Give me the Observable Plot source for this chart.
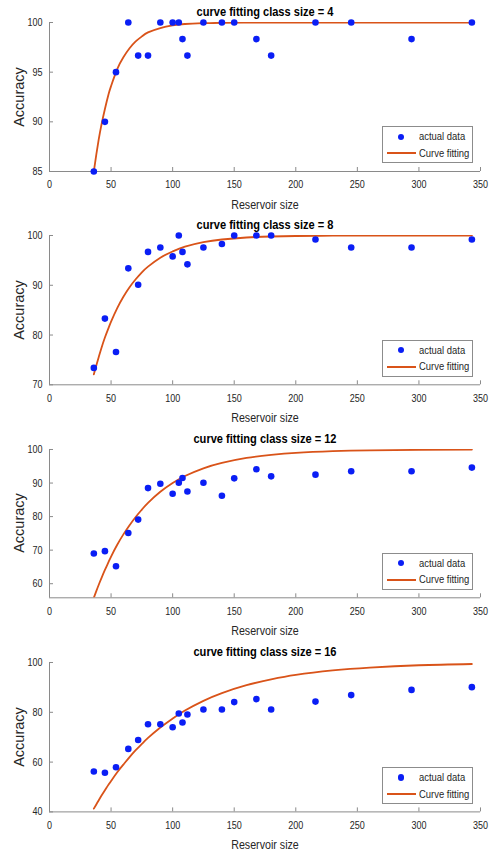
<!DOCTYPE html>
<html>
<head>
<meta charset="utf-8">
<script src="https://cdn.jsdelivr.net/npm/d3@7"></script>
<script src="https://cdn.jsdelivr.net/npm/@observablehq/plot@0.6"></script>
<style>
  html, body { margin: 0; padding: 0; background: #fff; }
  #wrap { position: relative; width: 489px; height: 851px; overflow: hidden; }
  .abs { position: absolute; line-height: 1; white-space: nowrap; transform: translate(-50%, -50%) scaleX(0.82); }
  .title { font-family: "Liberation Sans", Arial, sans-serif; font-weight: bold; font-size: 13.5px; color: #000; }
  .xlab { font-family: "Liberation Sans", Arial, sans-serif; font-size: 13px; color: #262626; }
  .ylab { font-family: "Liberation Sans", Arial, sans-serif; font-size: 14.5px; color: #262626; transform: translate(-50%, -50%) rotate(-90deg); }
  .legend { position: absolute; border: 1px solid #8c8c8c; background: #fff; box-sizing: border-box; font-family: "Liberation Sans", Arial, sans-serif; font-size: 11.5px; color: #262626; }
  .legend .dot { position: absolute; width: 6.5px; height: 6.5px; border-radius: 50%; background: #0a1ef5; }
  .legend .ln { position: absolute; height: 2px; background: #d95319; }
  .legend .txt { position: absolute; line-height: 1; white-space: nowrap; transform: scaleX(0.82); transform-origin: 0 50%; }
  svg { position: absolute; left: 0; overflow: visible; }
</style>
</head>
<body>
<div id="wrap"></div>
<script>
// ---- data ----
const reservoirSize = [36, 45, 54, 64, 72, 80, 90, 100, 105, 108, 112, 125, 140, 150, 168, 180, 216, 245, 294, 343];
const accClass4  = [85, 90, 95, 100, 96.67, 96.67, 100, 100, 100, 98.33, 96.67, 100, 100, 100, 98.33, 96.67, 100, 100, 98.33, 100];
const accClass8  = [73.4, 83.3, 76.6, 93.4, 90.1, 96.7, 97.6, 95.8, 100, 96.7, 94.2, 97.6, 98.3, 100, 100, 100, 99.2, 97.6, 97.6, 99.2];
const accClass12 = [69.0, 69.7, 65.2, 75.1, 79.1, 88.5, 89.8, 86.8, 90.1, 91.5, 87.5, 90.1, 86.2, 91.4, 94.1, 92.0, 92.5, 93.5, 93.5, 94.6];
const accClass16 = [56.2, 55.7, 57.9, 65.3, 68.9, 75.2, 75.2, 74.0, 79.5, 75.9, 79.1, 81.1, 81.1, 84.1, 85.3, 81.1, 84.3, 86.9, 89.0, 90.1];

const fitSize    = [36, 38, 40, 42, 45, 48, 50, 55, 60, 65, 70, 75, 80, 90, 100, 110, 125, 140, 160, 180, 200, 230, 260, 300, 343];
const fitClass4  = [85, 86.7, 88.25, 89.6, 91.3, 92.8, 93.6, 95.3, 96.5, 97.4, 98.1, 98.6, 99.0, 99.44, 99.7, 99.85, 99.93, 99.97, 99.99, 100, 100, 100, 100, 100, 100];
const fitClass8  = [72.1, 73.9, 75.6, 77.25, 79.5, 81.45, 82.7, 85.4, 87.7, 89.6, 91.2, 92.6, 93.75, 95.55, 96.8, 97.75, 98.65, 99.2, 99.6, 99.8, 99.9, 99.96, 99.98, 100, 100];
const fitClass12 = [55.8, 57.8, 59.7, 61.5, 64.1, 66.5, 68.1, 71.6, 74.7, 77.45, 79.9, 82.1, 84.1, 87.4, 90.0, 92.1, 94.4, 96.0, 97.5, 98.4, 99.0, 99.5, 99.76, 99.9, 99.97];
const fitClass16 = [41.3, 43.0, 44.7, 46.35, 48.7, 51.0, 52.4, 55.9, 59.0, 62.0, 64.8, 67.3, 69.7, 73.9, 77.5, 80.7, 84.6, 87.7, 90.9, 93.2, 95.0, 96.8, 97.96, 98.9, 99.4];

const classSizes = [4, 8, 12, 16];
const xTicks = [0, 50, 100, 150, 200, 250, 300, 350];
const yTicks4 = [85, 90, 95, 100];
const yTicks8 = [70, 80, 90, 100];
const yTicks12 = [60, 70, 80, 90, 100];
const yTicks16 = [40, 60, 80, 100];
const yDomains = [[85, 100], [70, 100], [55.8, 100], [40, 100]];

const titleText = "curve fitting class size = ";
const xLabel = "Reservoir size";
const yLabel = "Accuracy";
const legendLabels = ["actual data", "Curve fitting"];

// ---- layout ----
const W = 489, mL = 49, mR = 9, mT = 20, mB = 40;
const plotTops = [22, 235, 449, 662.3];
const innerHs = [149, 149.3, 148.3, 149.4];

const accs = [accClass4, accClass8, accClass12, accClass16];
const fits = [fitClass4, fitClass8, fitClass12, fitClass16];
const yTickSets = [yTicks4, yTicks8, yTicks12, yTicks16];

const wrap = document.getElementById("wrap");
const axisGray = "#8a8a8a";
const blue = "#0a1ef5";
const orange = "#d95319";

function addDiv(cls, text, x, y) {
  const d = document.createElement("div");
  d.className = "abs " + cls;
  d.textContent = text;
  d.style.left = x + "px";
  d.style.top = y + "px";
  wrap.appendChild(d);
  return d;
}

classSizes.forEach((cs, i) => {
  const innerH = innerHs[i];
  const innerW = W - mL - mR;
  const H = mT + innerH + mB;
  const pts = reservoirSize.map((x, k) => ({x, y: accs[i][k]}));
  const fit = fitSize.map((x, k) => ({x, y: fits[i][k]}));
  const [y0] = yDomains[i];

  const chart = Plot.plot({
    width: W,
    height: H,
    marginLeft: mL, marginRight: mR, marginTop: mT, marginBottom: mB,
    style: {fontFamily: "'Liberation Sans', Arial, sans-serif", fontSize: "11px", color: "#262626", background: "transparent", overflow: "visible"},
    x: {domain: [0, 350], label: null},
    y: {domain: yDomains[i], label: null},
    marks: [
      Plot.axisX({ticks: xTicks, tickSize: 0, tickPadding: 9, label: null, fontSize: 11}),
      Plot.axisY({ticks: yTickSets[i], tickSize: 0, tickPadding: 7, label: null, fontSize: 11}),
      Plot.ruleX(xTicks, {x: d => d, stroke: axisGray, strokeWidth: 1, insetTop: innerH - 4}),
      Plot.ruleY(yTickSets[i], {y: d => d, stroke: axisGray, strokeWidth: 1, insetRight: innerW - 4}),
      Plot.ruleY([y0], {stroke: axisGray, strokeWidth: 1}),
      Plot.ruleX([0], {stroke: axisGray, strokeWidth: 1}),
      Plot.line(fit, {x: "x", y: "y", stroke: orange, strokeWidth: 1.8, curve: "natural", clip: true}),
      Plot.dot(pts, {x: "x", y: "y", r: 3.3, fill: blue, stroke: "none"})
    ]
  });
  chart.style.top = (plotTops[i] - mT) + "px";
  wrap.appendChild(chart);

  // condense tick label glyphs horizontally to match the narrow reference font
  chart.querySelectorAll("text").forEach(t => {
    const len = t.getComputedTextLength();
    if (len > 0) {
      t.setAttribute("textLength", (len * 0.82).toFixed(2));
      t.setAttribute("lengthAdjust", "spacingAndGlyphs");
    }
  });

  const top = plotTops[i];
  const bottom = top + innerH;
  const cx = mL + innerW / 2;
  addDiv("title", titleText + cs, cx, top - 10.5);
  addDiv("xlab", xLabel, cx, bottom + 32.5);
  addDiv("ylab", yLabel, 19, top + innerH / 2);

  // legend box
  const lg = document.createElement("div");
  lg.className = "legend";
  const lw = 91, lh = 37;
  const lx = W - mR - 7.3 - lw;
  lg.style.left = lx + "px";
  lg.style.top = (bottom - 7.7 - lh) + "px";
  lg.style.width = lw + "px";
  lg.style.height = lh + "px";
  lg.innerHTML =
    `<div class="dot" style="left:${401 - lx - 3.25 - 1}px;top:${10.5 - 3.25 - 1}px"></div>` +
    `<div class="txt" style="left:36px;top:${10.5 - 6.5}px">${legendLabels[0]}</div>` +
    `<div class="ln" style="left:4px;width:29px;top:${27 - 1 - 1}px"></div>` +
    `<div class="txt" style="left:36px;top:${27 - 6.5}px">${legendLabels[1]}</div>`;
  wrap.appendChild(lg);
});
</script>
</body>
</html>
